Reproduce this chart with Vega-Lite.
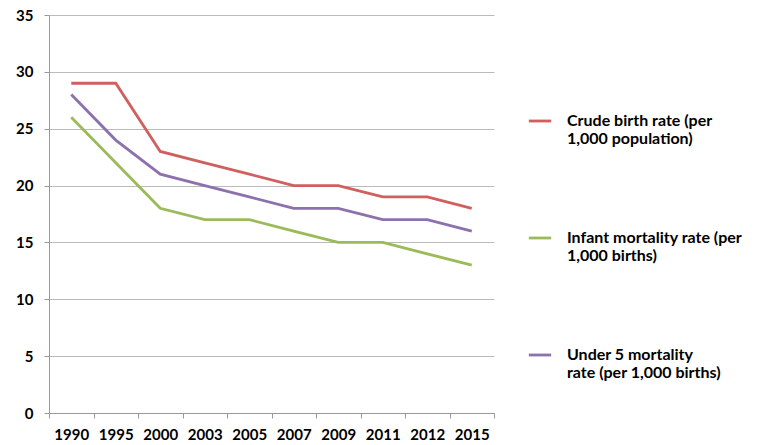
{
  "$schema": "https://vega.github.io/schema/vega-lite/v6.json",
  "width": 445,
  "height": 398,
  "autosize": "none",
  "padding": {"left": 49, "top": 15, "right": 269, "bottom": 32},
  "background": "white",
  "config": {
    "view": {"stroke": null},
    "font": "Lato",
    "axis": {"labelFont": "Lato", "labelFontWeight": "bold", "labelFontSize": 15, "labelColor": "#000"}
  },
  "data": {
    "values": [
      {"year": "1990", "series": "Crude birth rate (per 1,000 population)", "value": 29},
      {"year": "1995", "series": "Crude birth rate (per 1,000 population)", "value": 29},
      {"year": "2000", "series": "Crude birth rate (per 1,000 population)", "value": 23},
      {"year": "2003", "series": "Crude birth rate (per 1,000 population)", "value": 22},
      {"year": "2005", "series": "Crude birth rate (per 1,000 population)", "value": 21},
      {"year": "2007", "series": "Crude birth rate (per 1,000 population)", "value": 20},
      {"year": "2009", "series": "Crude birth rate (per 1,000 population)", "value": 20},
      {"year": "2011", "series": "Crude birth rate (per 1,000 population)", "value": 19},
      {"year": "2012", "series": "Crude birth rate (per 1,000 population)", "value": 19},
      {"year": "2015", "series": "Crude birth rate (per 1,000 population)", "value": 18},
      {"year": "1990", "series": "Infant mortality rate (per 1,000 births)", "value": 26},
      {"year": "1995", "series": "Infant mortality rate (per 1,000 births)", "value": 22},
      {"year": "2000", "series": "Infant mortality rate (per 1,000 births)", "value": 18},
      {"year": "2003", "series": "Infant mortality rate (per 1,000 births)", "value": 17},
      {"year": "2005", "series": "Infant mortality rate (per 1,000 births)", "value": 17},
      {"year": "2007", "series": "Infant mortality rate (per 1,000 births)", "value": 16},
      {"year": "2009", "series": "Infant mortality rate (per 1,000 births)", "value": 15},
      {"year": "2011", "series": "Infant mortality rate (per 1,000 births)", "value": 15},
      {"year": "2012", "series": "Infant mortality rate (per 1,000 births)", "value": 14},
      {"year": "2015", "series": "Infant mortality rate (per 1,000 births)", "value": 13},
      {"year": "1990", "series": "Under 5 mortality rate (per 1,000 births)", "value": 28},
      {"year": "1995", "series": "Under 5 mortality rate (per 1,000 births)", "value": 24},
      {"year": "2000", "series": "Under 5 mortality rate (per 1,000 births)", "value": 21},
      {"year": "2003", "series": "Under 5 mortality rate (per 1,000 births)", "value": 20},
      {"year": "2005", "series": "Under 5 mortality rate (per 1,000 births)", "value": 19},
      {"year": "2007", "series": "Under 5 mortality rate (per 1,000 births)", "value": 18},
      {"year": "2009", "series": "Under 5 mortality rate (per 1,000 births)", "value": 18},
      {"year": "2011", "series": "Under 5 mortality rate (per 1,000 births)", "value": 17},
      {"year": "2012", "series": "Under 5 mortality rate (per 1,000 births)", "value": 17},
      {"year": "2015", "series": "Under 5 mortality rate (per 1,000 births)", "value": 16}
    ]
  },
  "mark": {"type": "line", "strokeWidth": 2.8},
  "encoding": {
    "x": {
      "field": "year",
      "type": "ordinal",
      "scale": {"type": "band", "paddingInner": 0, "paddingOuter": 0},
      "axis": {
        "title": null,
        "labelAngle": 0,
        "tickBand": "extent",
        "domainColor": "#999",
        "tickColor": "#999",
        "tickSize": 5,
        "labelPadding": 9,
        "grid": false
      }
    },
    "y": {
      "field": "value",
      "type": "quantitative",
      "scale": {"domain": [0, 35], "nice": false},
      "axis": {
        "title": null,
        "values": [0, 5, 10, 15, 20, 25, 30, 35],
        "gridColor": "#bbb",
        "domain": true,
        "domainColor": "#999",
        "tickColor": "#999",
        "tickSize": 5,
        "labelPadding": 11
      }
    },
    "color": {
      "field": "series",
      "type": "nominal",
      "scale": {
        "domain": ["Crude birth rate (per 1,000 population)", "Infant mortality rate (per 1,000 births)", "Under 5 mortality rate (per 1,000 births)"],
        "range": ["#D0605E", "#9BBB59", "#8C72AD"]
      },
      "legend": {
        "title": null,
        "orient": "none",
        "legendX": 478,
        "legendY": 93,
        "symbolType": "stroke",
        "symbolStrokeWidth": 2.8,
        "symbolSize": 500,
        "labelFont": "Lato",
        "labelFontWeight": "bold",
        "labelFontSize": 16,
        "labelLineHeight": 20,
        "labelColor": "#000",
        "labelLimit": 300,
        "labelOffset": 14,
        "rowPadding": 78,
        "labelExpr": "datum.label == 'Crude birth rate (per 1,000 population)' ? ['Crude birth rate (per', ' 1,000 population)'] : datum.label == 'Infant mortality rate (per 1,000 births)' ? ['Infant mortality rate (per', ' 1,000 births)'] : ['Under 5 mortality', ' rate (per 1,000 births)']"
      }
    }
  }
}
